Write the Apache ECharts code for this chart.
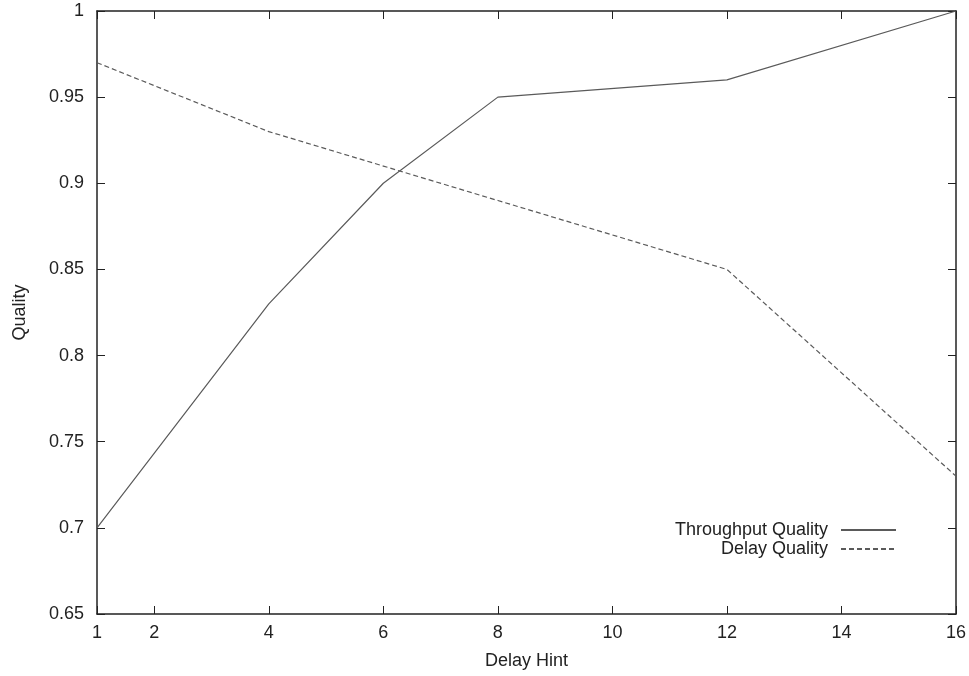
<!DOCTYPE html>
<html>
<head>
<meta charset="utf-8">
<script src="https://cdn.jsdelivr.net/npm/echarts@6/dist/echarts.min.js"></script>
<style>html,body{margin:0;padding:0;background:#fff;}#c{width:969px;height:676px;}</style>
</head>
<body>
<div id="c"></div>
<script>
const delayHint = [1, 4, 6, 8, 12, 16];
const throughputQuality = [0.70, 0.83, 0.90, 0.95, 0.96, 1.00];
const delayQuality = [0.97, 0.93, 0.91, 0.89, 0.85, 0.73];
const xTicks = [1, 2, 4, 6, 8, 10, 12, 14, 16];
const seriesNames = ['Throughput Quality', 'Delay Quality'];

const font = 'Liberation Sans, Arial, Helvetica, sans-serif';
const fs = 18;
const axisColor = '#222';
const lineColor = '#5a5a5a';

const chart = echarts.init(document.getElementById('c'));
const pairs = (xs, ys) => xs.map((x, i) => [x, ys[i]]);

chart.setOption({
  animation: false,
  backgroundColor: '#fff',
  grid: { left: 97, right: 13, top: 11, bottom: 62, containLabel: false, outerBoundsMode: 'none' },
  legend: {
    orient: 'vertical',
    right: 72,
    top: 521,
    align: 'right',
    itemWidth: 55,
    itemHeight: 16,
    itemGap: 1,
    padding: 0,
    itemStyle: { opacity: 0 },
    textStyle: { fontFamily: font, fontSize: fs, color: '#222', padding: [0, 8, 0, 0], lineHeight: 18 },
    data: seriesNames
  },
  xAxis: [
    {
      type: 'value', min: 1, max: 16,
      name: 'Delay Hint', nameLocation: 'middle', nameGap: 38,
      nameTextStyle: { fontFamily: font, fontSize: fs, color: '#222' },
      axisLine: { lineStyle: { color: axisColor, width: 1.5 } },
      axisTick: { inside: true, length: 8, customValues: xTicks, lineStyle: { color: axisColor } },
      axisLabel: { customValues: xTicks, fontFamily: font, fontSize: fs, color: '#222', margin: 10 },
      splitLine: { show: false }
    },
    {
      type: 'value', min: 1, max: 16, position: 'top',
      axisLine: { lineStyle: { color: axisColor, width: 1.5 } },
      axisTick: { inside: true, length: 8, customValues: xTicks, lineStyle: { color: axisColor } },
      axisLabel: { show: false },
      splitLine: { show: false }
    }
  ],
  yAxis: [
    {
      type: 'value', min: 0.65, max: 1, interval: 0.05,
      name: 'Quality', nameLocation: 'middle', nameGap: 68,
      nameTextStyle: { fontFamily: font, fontSize: fs, color: '#222' },
      axisLine: { show: true, lineStyle: { color: axisColor, width: 1.5 } },
      axisTick: { show: true, inside: true, length: 8, lineStyle: { color: axisColor } },
      axisLabel: { fontFamily: font, fontSize: fs, color: '#222', margin: 13,
        formatter: v => String(parseFloat(v.toFixed(2))) },
      splitLine: { show: false }
    },
    {
      type: 'value', min: 0.65, max: 1, interval: 0.05, position: 'right',
      axisLine: { show: true, lineStyle: { color: axisColor, width: 1.5 } },
      axisTick: { show: true, inside: true, length: 8, lineStyle: { color: axisColor } },
      axisLabel: { show: false },
      splitLine: { show: false }
    }
  ],
  series: [
    {
      name: seriesNames[0], type: 'line', symbol: 'none',
      data: pairs(delayHint, throughputQuality),
      lineStyle: { color: lineColor, width: 1.2 },
      itemStyle: { color: lineColor }
    },
    {
      name: seriesNames[1], type: 'line', symbol: 'none',
      data: pairs(delayHint, delayQuality),
      lineStyle: { color: lineColor, width: 1.2, type: [5, 3] },
      itemStyle: { color: lineColor }
    }
  ]
});
</script>
</body>
</html>
